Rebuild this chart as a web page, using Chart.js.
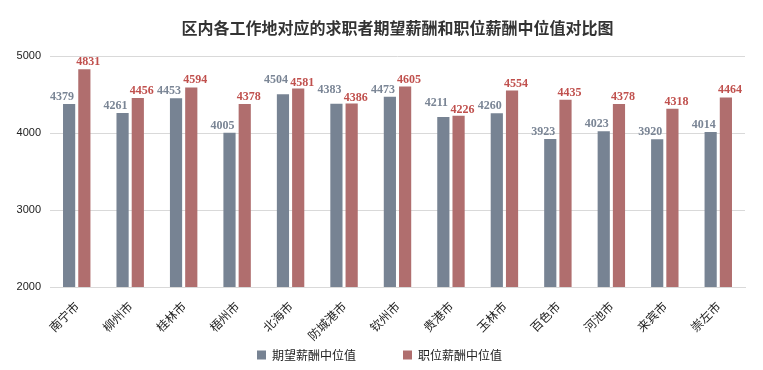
<!DOCTYPE html>
<html><head><meta charset="utf-8">
<script src="https://cdn.jsdelivr.net/npm/chart.js@4/dist/chart.umd.min.js"></script>
<style>html,body{margin:0;padding:0;background:#fff}canvas{display:block}</style>
</head><body>
<canvas id="c" width="763" height="370"></canvas>
<script>
const titleText = '区内各工作地对应的求职者期望薪酬和职位薪酬中位值对比图';
const categories = ['南宁市','柳州市','桂林市','梧州市','北海市','防城港市','钦州市','贵港市','玉林市','百色市','河池市','来宾市','崇左市'];
const seriesNames = ['期望薪酬中位值','职位薪酬中位值'];
const expectedSalary = [4379,4261,4453,4005,4504,4383,4473,4211,4260,3923,4023,3920,4014];
const jobSalary = [4831,4456,4594,4378,4581,4386,4605,4226,4554,4435,4378,4318,4464];
const yTickValues = [2000,3000,4000,5000];

const CJK = '"Noto Sans CJK SC", sans-serif';
const labelStyles = [
  {color:'#7a8595', font:'bold 12px "Liberation Serif", serif', dx:-7},
  {color:'#c0504d', font:'bold 12px "Liberation Serif", serif', dx:4}
];
const valueLabels = {
  id:'valueLabels',
  afterLayout(chart){
    // let the rotated category labels extend below the (thin) x-axis box without clipping
    chart.scales.x.bottom = chart.height;
  },
  afterDatasetsDraw(chart){
    const ctx = chart.ctx;
    const metas = chart.data.datasets.map((ds,i)=>chart.getDatasetMeta(i));
    const n = chart.data.labels.length;
    for (let j = 0; j < n; j++) {
      const ys = metas.map(m => m.data[j].y - 4);
      // when the two labels would sit at almost the same height, lift the first one
      if (Math.abs(ys[0] - ys[1]) < 8) { ys[0] -= 7; ys[1] += 1.5; }
      metas.forEach((m,i)=>{
        const st = labelStyles[i];
        ctx.save();
        ctx.font = st.font; ctx.fillStyle = st.color;
        ctx.textAlign = 'center'; ctx.textBaseline = 'alphabetic';
        ctx.fillText(String(chart.data.datasets[i].data[j]), m.data[j].x + st.dx, ys[i]);
        ctx.restore();
      });
    }
  }
};
new Chart(document.getElementById('c'), {
  type:'bar',
  data:{labels:categories, datasets:[
    {label:seriesNames[0], data:expectedSalary, backgroundColor:'#778393', categoryPercentage:0.57, barPercentage:0.8},
    {label:seriesNames[1], data:jobSalary, backgroundColor:'#b06e6e', categoryPercentage:0.57, barPercentage:0.8}
  ]},
  options:{
    responsive:false, animation:false, devicePixelRatio:1,
    layout:{padding:{left:14,right:18,top:0,bottom:-1}},
    plugins:{
      title:{display:true, text:titleText, fullSize:false, color:'#333', font:{family:CJK,size:16,weight:'bold'}, padding:{top:18,bottom:19}},
      legend:{position:'bottom', labels:{boxWidth:9, boxHeight:9, padding:47, color:'#222', font:{family:CJK,size:12}}},
      tooltip:{enabled:false}
    },
    scales:{
      x:{grid:{display:false, drawTicks:false}, border:{display:true,color:'#d9d9d9'},
         ticks:{autoSkip:false, minRotation:45, maxRotation:45, padding:12, labelOffset:0, color:'#222', font:{family:CJK,size:12}},
         afterFit(s){ s.height = 15; }},
      y:{min:yTickValues[0], max:yTickValues[yTickValues.length-1],
         afterBuildTicks(s){ s.ticks = yTickValues.map(v=>({value:v})); },
         grid:{color:'#d9d9d9', drawTicks:false}, border:{display:false},
         ticks:{padding:9, color:'#222', font:{family:'"Liberation Sans", Arial, sans-serif', size:11}, callback:v=>String(v)},
         afterFit(s){ s.width = 36; }}
    }
  },
  plugins:[valueLabels]
});
</script>
</body></html>
